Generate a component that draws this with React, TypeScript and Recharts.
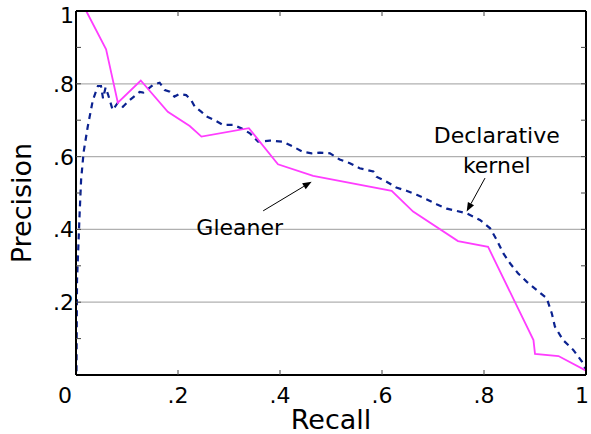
import { LineChart, Line, XAxis, YAxis, ReferenceLine, ReferenceDot } from "recharts";

const FONT = "'DejaVu Sans', sans-serif";

const gleanerRecall = [0.02, 0.059, 0.082, 0.127, 0.18, 0.223, 0.246, 0.339, 0.396, 0.465, 0.619, 0.661, 0.749, 0.808, 0.897, 0.9, 0.946, 1.0];
const gleanerPrecision = [1.0, 0.895, 0.748, 0.809, 0.723, 0.684, 0.655, 0.678, 0.579, 0.547, 0.506, 0.449, 0.368, 0.352, 0.096, 0.058, 0.052, 0.012];

const kernelRecall = [
  0.001, 0.002, 0.007, 0.01, 0.015, 0.023, 0.033, 0.043, 0.049, 0.053, 0.058, 0.063, 0.072, 0.082, 0.092,
  0.105, 0.125, 0.132, 0.145, 0.151, 0.164, 0.174, 0.184, 0.193, 0.203, 0.216, 0.226, 0.233, 0.246, 0.256,
  0.272, 0.288, 0.308, 0.324, 0.341, 0.357, 0.38, 0.406, 0.426, 0.445, 0.462, 0.478, 0.498, 0.517, 0.537,
  0.556, 0.583, 0.589, 0.609, 0.628, 0.648, 0.668, 0.687, 0.707, 0.727, 0.74, 0.766, 0.792, 0.812, 0.825,
  0.838, 0.851, 0.867, 0.884, 0.903, 0.923, 0.933, 0.939, 0.955, 0.975, 0.992, 1.0,
];
const kernelPrecision = [
  0.01, 0.26, 0.44, 0.536, 0.613, 0.682, 0.755, 0.794, 0.794, 0.76, 0.79, 0.77, 0.728, 0.748, 0.737,
  0.755, 0.778, 0.776, 0.79, 0.797, 0.803, 0.783, 0.778, 0.765, 0.772, 0.769, 0.755, 0.737, 0.723, 0.71,
  0.7, 0.687, 0.687, 0.678, 0.664, 0.641, 0.644, 0.641, 0.627, 0.613, 0.609, 0.611, 0.609, 0.592, 0.582,
  0.568, 0.559, 0.545, 0.531, 0.515, 0.506, 0.495, 0.483, 0.469, 0.457, 0.453, 0.444, 0.426, 0.403, 0.371,
  0.334, 0.307, 0.279, 0.256, 0.234, 0.211, 0.169, 0.133, 0.096, 0.069, 0.037, 0.014,
];

const xTicks = [0, 0.2, 0.4, 0.6, 0.8, 1];
const xTickLabels = ["0", ".2", ".4", ".6", ".8", "1"];
const yTicks = [0, 0.1, 0.2, 0.3, 0.4, 0.5, 0.6, 0.7, 0.8, 0.9, 1];
const yTickLabels = ["", "", ".2", "", ".4", "", ".6", "", ".8", "", "1"];
const gridLevels = [0.2, 0.4, 0.6, 0.8];

const gleanerData = gleanerRecall.map((r, i) => ({ r, p: gleanerPrecision[i] }));
const kernelData = kernelRecall.map((r, i) => ({ r, p: kernelPrecision[i] }));

function BottomTick({ x, y, payload, index }: any) {
  const label = xTickLabels[index] ?? "";
  const shift = payload.value === 0 ? -11 : payload.value === 1 ? -4 : 0;
  return (
    <g>
      {payload.value > 0 && payload.value < 1 && (
        <line x1={x} y1={y} x2={x} y2={y - 5} stroke="#444" strokeWidth={1} />
      )}
      <text x={x + shift} y={y + 28} textAnchor="middle" fontFamily={FONT} fontSize={22} fill="#000">
        {label}
      </text>
    </g>
  );
}

function TopTick({ x, y, payload }: any) {
  if (payload.value <= 0 || payload.value >= 1) return <g />;
  return <line x1={x} y1={y} x2={x} y2={y + 5} stroke="#444" strokeWidth={1} />;
}

function LeftTick({ x, y, payload }: any) {
  const idx = yTicks.indexOf(payload.value);
  const label = yTickLabels[idx] ?? "";
  const extra = payload.value === 1 ? 3.5 : 0;
  return (
    <g>
      {payload.value > 0 && payload.value < 1 && (
        <line x1={x} y1={y} x2={x + 5} y2={y} stroke="#444" strokeWidth={1} />
      )}
      {label && (
        <text x={x - 2} y={y + 8 + extra} textAnchor="end" fontFamily={FONT} fontSize={22} fill="#000">
          {label}
        </text>
      )}
    </g>
  );
}

function RightTick({ x, y, payload }: any) {
  if (payload.value <= 0 || payload.value >= 1) return <g />;
  return <line x1={x} y1={y} x2={x - 5} y2={y} stroke="#444" strokeWidth={1} />;
}

function Arrow(props: any) {
  const { x1, y1, x2, y2 } = props;
  const a = Math.atan2(y2 - y1, x2 - x1);
  const len = 9;
  const half = 3.5;
  const bx = x2 - len * Math.cos(a);
  const by = y2 - len * Math.sin(a);
  const px = -Math.sin(a) * half;
  const py = Math.cos(a) * half;
  return (
    <g>
      <line x1={x1} y1={y1} x2={bx} y2={by} stroke="#000" strokeWidth={1} />
      <polygon points={`${x2},${y2} ${bx + px},${by + py} ${bx - px},${by - py}`} fill="#000" />
    </g>
  );
}

function note(text: string) {
  return (props: any) => (
    <text x={props.cx} y={props.cy} textAnchor="middle" fontFamily={FONT} fontSize={22} fill="#000">
      {text}
    </text>
  );
}

export default function App() {
  return (
    <div style={{ position: "absolute", left: 0, top: 0 }}>
      <LineChart width={591} height={434} margin={{ top: 0, right: 4, bottom: 0, left: 0 }}>
        <XAxis
          dataKey="r"
          type="number"
          domain={[0, 1]}
          ticks={xTicks}
          interval={0}
          height={59}
          tickSize={0}
          tickMargin={0}
          tickLine={false}
          axisLine={{ stroke: "#000", strokeWidth: 2 }}
          tick={<BottomTick />}
          label={{
            content: (p: any) => {
              const vb = p.viewBox;
              return (
                <text x={vb.x + vb.width / 2} y={vb.y + vb.height - 5} textAnchor="middle" fontFamily={FONT} fontSize={27} fill="#000">
                  Recall
                </text>
              );
            },
          }}
        />
        <XAxis
          xAxisId="top"
          orientation="top"
          dataKey="r"
          type="number"
          domain={[0, 1]}
          ticks={xTicks}
          interval={0}
          height={11}
          tickSize={0}
          tickMargin={0}
          tickLine={false}
          axisLine={{ stroke: "#000", strokeWidth: 2 }}
          tick={<TopTick />}
        />
        <YAxis
          type="number"
          domain={[0, 1]}
          ticks={yTicks}
          interval={0}
          width={76}
          tickSize={0}
          tickMargin={0}
          tickLine={false}
          axisLine={{ stroke: "#000", strokeWidth: 2 }}
          tick={<LeftTick />}
          label={{
            content: () => (
              <text x={31} y={203} transform="rotate(-90 31 203)" textAnchor="middle" fontFamily={FONT} fontSize={27} fill="#000">
                Precision
              </text>
            ),
          }}
        />
        <YAxis
          yAxisId="right"
          orientation="right"
          type="number"
          domain={[0, 1]}
          ticks={yTicks}
          interval={0}
          width={1}
          tickSize={0}
          tickMargin={0}
          tickLine={false}
          axisLine={{ stroke: "#000", strokeWidth: 2 }}
          tick={<RightTick />}
        />
        {gridLevels.map((v) => (
          <ReferenceLine key={v} y={v} stroke="#b0b0b0" strokeWidth={1.3} />
        ))}
        <Line
          data={kernelData}
          dataKey="p"
          xAxisId="top"
          yAxisId="right"
          type="linear"
          stroke="#0b2290"
          strokeWidth={2.2}
          strokeDasharray="6 5"
          dot={false}
          isAnimationActive={false}
        />
        <Line
          data={gleanerData}
          dataKey="p"
          type="linear"
          stroke="#ff3dff"
          strokeWidth={1.8}
          dot={false}
          isAnimationActive={false}
        />
        <ReferenceLine segment={[{ x: 0.367, y: 0.451 }, { x: 0.462, y: 0.531 }]} shape={Arrow} />
        <ReferenceLine segment={[{ x: 0.802, y: 0.541 }, { x: 0.766, y: 0.449 }]} shape={Arrow} />
        <ReferenceDot x={0.321} y={0.385} r={0} shape={note("Gleaner")} />
        <ReferenceDot x={0.825} y={0.638} r={0} shape={note("Declarative")} />
        <ReferenceDot x={0.825} y={0.556} r={0} shape={note("kernel")} />
      </LineChart>
    </div>
  );
}
